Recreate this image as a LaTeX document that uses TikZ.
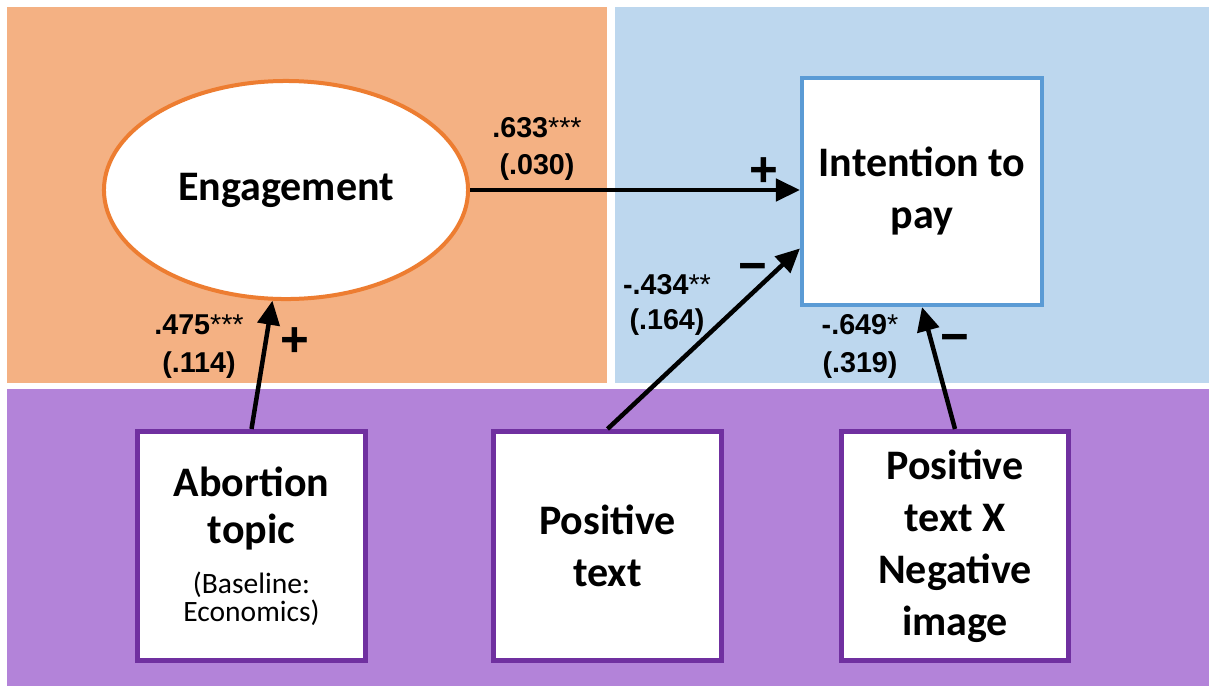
\documentclass[tikz,border=0pt]{standalone}
\usepackage{fontspec}
\setmainfont{Carlito}
\newfontfamily\numfont{Liberation Sans}
\usetikzlibrary{shapes.geometric,arrows.meta}
\definecolor{engfill}{HTML}{F4B183}
\definecolor{engline}{HTML}{ED7D31}
\definecolor{payfill}{HTML}{BDD7EE}
\definecolor{payline}{HTML}{5B9BD5}
\definecolor{manfill}{HTML}{B383D9}
\definecolor{manline}{HTML}{7030A0}
\tikzset{
	>={Triangle[length=0.6cm,width=0.55cm]},
	varbox/.style={draw=manline,line width=0.125cm,fill=white,minimum width=5.675cm,minimum height=5.725cm,align=center,font=\bfseries\fontsize{29.9}{37}\selectfont},
	coef/.style={align=center,font=\numfont\bfseries\fontsize{20.4}{26.5}\selectfont},
	sign/.style={font=\numfont\bfseries\fontsize{35}{35}\selectfont},
	link/.style={line width=0.1125cm,->}
}
\begin{document}
\begin{tikzpicture}[x=0.025cm,y=-0.025cm]
	\useasboundingbox (0,0) rectangle (1209,686);
	\fill[engfill] (7,7) rectangle (607,383);
	\fill[payfill] (615,7) rectangle (1209,383);
	\fill[manfill] (7,389) rectangle (1209,686);
	\node[ellipse,draw=engline,line width=0.1cm,fill=white,minimum width=9.1cm,minimum height=5.45cm,font=\bfseries\fontsize{29.9}{37}\selectfont] (eng) at (286,190) {Engagement};
	\node[varbox,draw=payline,line width=0.1cm,minimum width=6cm,minimum height=5.675cm] (pay) at (922,191.5) {Intention to\\pay};
	\node[varbox] (topic) at (251.5,546) {Abortion\\[-3.6pt]topic\\[-1.4pt]{\mdseries\fontsize{21}{21}\selectfont(Baseline:}\\[-17.1pt]{\mdseries\fontsize{21}{21}\selectfont Economics)}};
	\node[varbox] (pos) at (607.5,546) {Positive\\text};
	\node[varbox] (inter) at (955,546) {Positive\\text X\\Negative\\image};
	\draw[link] (eng.east) -- (eng.east -| pay.west);
	\draw[link] (topic.north) -- (eng.263);
	\draw[link] (pos.north) -- (pay.205);
	\draw[link] (inter.north) -- (pay.south);
	\node[coef] (c1) at (537,149) {.633{\mdseries***}\\(.030)};
	\node[coef] (c2) at (199,346.5) {.475{\mdseries***}\\(.114)};
	\node[coef] (c3) at (667,305) {-.434{\mdseries**}\\[-1.5pt](.164)};
	\node[coef] (c4) at (860,346.5) {-.649{\mdseries*}\\(.319)};
	\node[sign] (s1) at (295,342.5) {+};
	\node[sign] (s2) at (764,172.5) {+};
	\node[sign] (s3) at (753,272.5) {−};
	\node[sign] (s4) at (955,343.5) {−};
\end{tikzpicture}
\end{document}
